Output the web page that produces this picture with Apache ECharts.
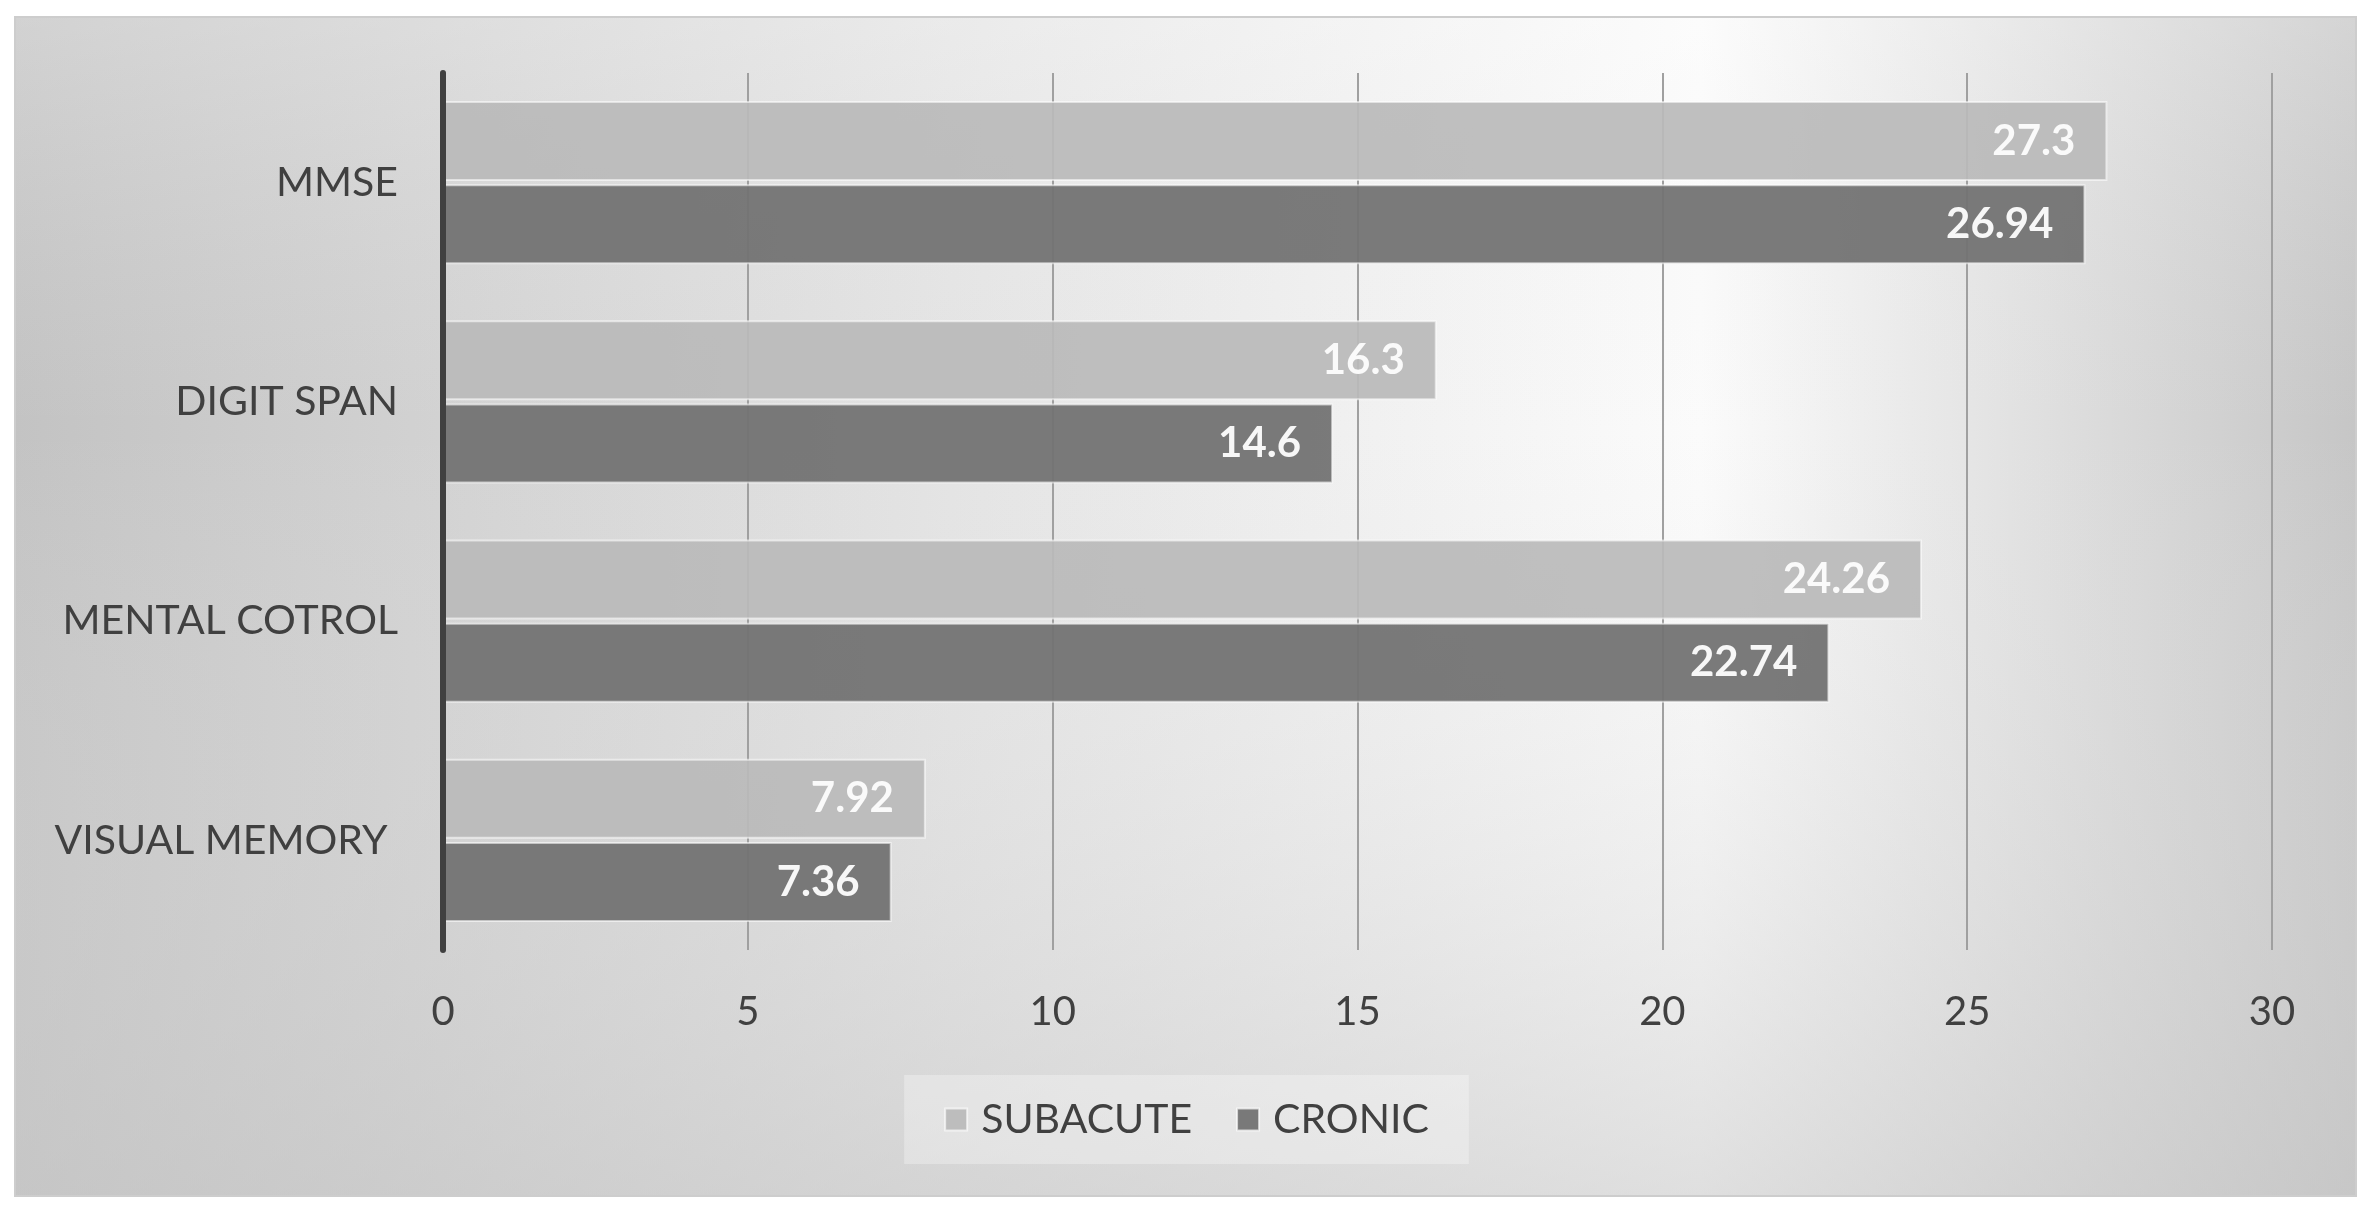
<!DOCTYPE html>
<html>
<head>
<meta charset="utf-8">
<title>Subacute vs Cronic</title>
<script src="https://cdn.jsdelivr.net/npm/echarts@6/dist/echarts.min.js"></script>
<style>
html, body { margin: 0; padding: 0; background: #fff; }
#chart { width: 2373px; height: 1214px; }
</style>
</head>
<body>
<div id="chart"></div>
<script>
// data
var categories = ['MMSE', 'DIGIT SPAN', 'MENTAL COTROL', 'VISUAL MEMORY '];
var subacute = [27.3, 16.3, 24.26, 7.92];
var cronic = [26.94, 14.6, 22.74, 7.36];
var seriesNames = ['SUBACUTE', 'CRONIC'];

var chart = echarts.init(document.getElementById('chart'));
var font = 'Lato, "Open Sans", sans-serif';

var option = {
    animation: false,
    graphic: [
        {
            // panel background, horizontal shading
            type: 'rect',
            z: -100,
            silent: true,
            shape: { x: 15, y: 17, width: 2341, height: 1179 },
            style: {
                fill: new echarts.graphic.LinearGradient(0, 0, 1, 0, [
                    { offset: 0, color: '#c3c3c3' },
                    { offset: 0.4, color: '#e4e4e4' },
                    { offset: 0.72, color: '#fbfbfb' },
                    { offset: 1, color: '#c6c6c6' }
                ]),
                stroke: '#cdcdcd',
                lineWidth: 2
            }
        },
        {
            // darker toward the bottom
            type: 'rect',
            z: -99,
            silent: true,
            shape: { x: 16, y: 18, width: 2339, height: 1177 },
            style: {
                fill: new echarts.graphic.LinearGradient(0, 0, 0, 1, [
                    { offset: 0, color: 'rgba(255,255,255,0.25)' },
                    { offset: 0.35, color: 'rgba(230,230,230,0)' },
                    { offset: 1, color: 'rgba(200,200,200,0.55)' }
                ])
            }
        }
    ],
    grid: {
        left: 443,
        right: 101,
        top: 73,
        bottom: 264,
        containLabel: false
    },
    legend: {
        data: seriesNames,
        bottom: 50,
        left: 'center',
        icon: 'rect',
        itemWidth: 22,
        itemHeight: 22,
        itemGap: 44,
        padding: [24, 40, 24, 40],
        backgroundColor: 'rgba(255,255,255,0.3)',
        itemStyle: {
            borderColor: 'rgba(255,255,255,0.7)',
            borderWidth: 2
        },
        textStyle: {
            fontFamily: font,
            fontSize: 41,
            color: '#404040',
            padding: [0, 0, 0, 9]
        }
    },
    xAxis: {
        type: 'value',
        min: 0,
        max: 30,
        interval: 5,
        axisLine: { show: false },
        axisTick: { show: false },
        axisLabel: {
            margin: 42,
            fontFamily: font,
            fontSize: 40,
            color: '#404040'
        },
        splitLine: {
            show: true,
            lineStyle: { color: '#a0a0a0', width: 2 }
        }
    },
    yAxis: {
        type: 'category',
        data: categories,
        inverse: true,
        z: 10,
        axisLine: {
            show: true,
            lineStyle: { color: '#404040', width: 6 }
        },
        axisTick: { show: false },
        axisLabel: {
            margin: 45,
            fontFamily: font,
            fontSize: 41,
            color: '#404040'
        }
    },
    series: [
        {
            name: seriesNames[0],
            type: 'bar',
            data: subacute,
            barWidth: 80,
            barGap: '4%',
            itemStyle: {
                color: '#bababa',
                opacity: 0.92,
                borderColor: 'rgba(255,255,255,0.6)',
                borderWidth: 2
            },
            label: {
                show: true,
                position: 'insideRight',
                distance: 32,
                color: '#fff',
                fontFamily: font,
                fontWeight: 'bold',
                fontSize: 42
            }
        },
        {
            name: seriesNames[1],
            type: 'bar',
            data: cronic,
            barWidth: 80,
            itemStyle: {
                color: '#727272',
                opacity: 0.94,
                borderColor: 'rgba(255,255,255,0.6)',
                borderWidth: 2
            },
            label: {
                show: true,
                position: 'insideRight',
                distance: 32,
                color: '#fff',
                fontFamily: font,
                fontWeight: 'bold',
                fontSize: 42
            }
        }
    ]
};

chart.setOption(option);
</script>
</body>
</html>
